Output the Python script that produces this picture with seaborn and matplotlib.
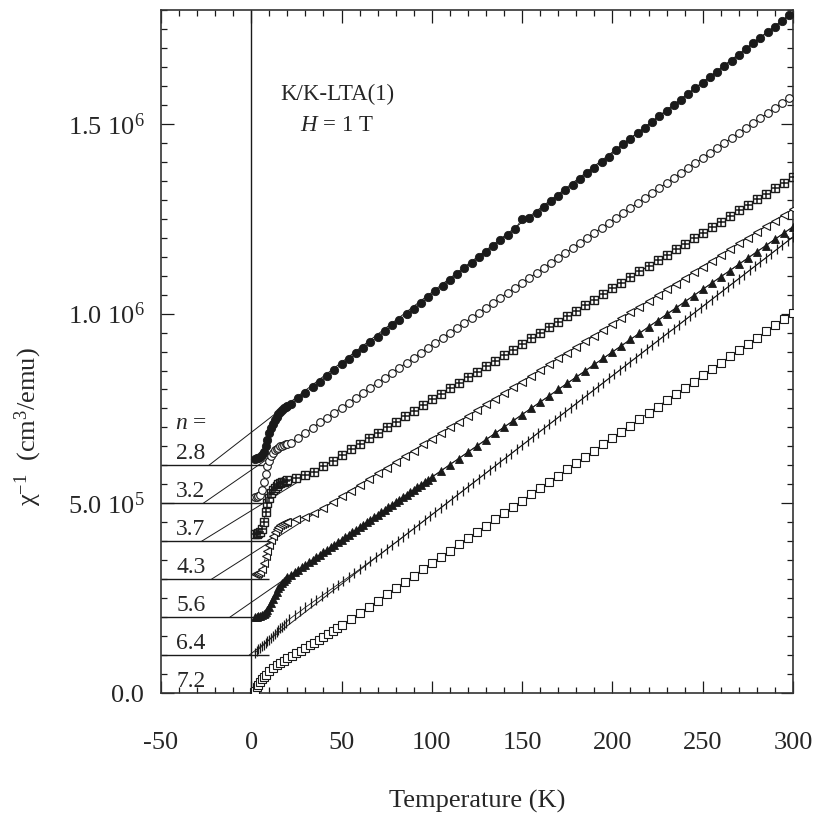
import numpy as np
import matplotlib
matplotlib.use("Agg")
import matplotlib.pyplot as plt
from matplotlib.ticker import MultipleLocator, FixedLocator, FixedFormatter
import seaborn as sns

# temperature grids (K)
t_low = list(range(2, 21))
t_4k = list(range(22, 299, 4))
t_5k = list(range(25, 301, 5))
t_56 = list(range(2, 21)) + list(range(22, 101, 2)) + list(range(105, 301, 5))
t_64 = list(range(2, 20)) + list(range(21, 301, 3))
t_72 = [1.5, 2, 3, 4, 5, 6, 7, 8, 10, 12, 14, 16, 18, 20, 22.5, 25, 27.5, 30,
        32.5, 35, 37.5, 40, 42.5, 45, 47.5, 50] + list(range(55, 301, 5))

# chi^-1 (+ offset), units of 1e5 cm^3/emu
y28 = [6.18, 6.19, 6.20, 6.22, 6.27, 6.36, 6.52, 6.68, 6.84, 6.98, 7.10, 7.20, 7.28, 7.35, 7.41, 7.46, 7.50, 7.54, 7.57,
       7.62, 7.77, 7.92, 8.06, 8.21, 8.36, 8.51, 8.66, 8.80, 8.95,
       9.10, 9.25, 9.39, 9.54, 9.69, 9.84, 9.98, 10.13, 10.28, 10.43,
       10.60, 10.74, 10.89, 11.04, 11.19, 11.33, 11.48, 11.63, 11.78, 11.93,
       12.07, 12.22, 12.50, 12.52, 12.66, 12.81, 12.96, 13.11, 13.26, 13.40,
       13.55, 13.70, 13.85, 13.99, 14.14, 14.31, 14.46, 14.61, 14.75, 14.90,
       15.05, 15.20, 15.34, 15.49, 15.64, 15.79, 15.94, 16.08, 16.23, 16.38,
       16.53, 16.67, 16.82, 16.97, 17.12, 17.27, 17.41, 17.56, 17.71, 17.86]
y32 = [5.17, 5.17, 5.18, 5.22, 5.35, 5.55, 5.78, 5.98, 6.12, 6.24, 6.33, 6.40, 6.44, 6.47, 6.50, 6.52, 6.54, 6.56, 6.57,
       6.60, 6.73, 6.86, 6.99, 7.13, 7.26, 7.39, 7.52, 7.65, 7.78,
       7.91, 8.05, 8.18, 8.31, 8.44, 8.57, 8.70, 8.84, 8.97, 9.10,
       9.23, 9.36, 9.49, 9.63, 9.76, 9.89, 10.02, 10.15, 10.28, 10.42,
       10.55, 10.68, 10.81, 10.94, 11.07, 11.20, 11.34, 11.47, 11.60, 11.73,
       11.86, 11.99, 12.13, 12.26, 12.39, 12.52, 12.65, 12.78, 12.92, 13.05,
       13.18, 13.31, 13.44, 13.57, 13.71, 13.84, 13.97, 14.10, 14.23, 14.36,
       14.50, 14.63, 14.76, 14.89, 15.02, 15.15, 15.28, 15.42, 15.55, 15.68]
y37 = [4.20, 4.20, 4.21, 4.24, 4.32, 4.50, 4.78, 5.00, 5.15, 5.27, 5.35, 5.41, 5.46, 5.50, 5.53, 5.55, 5.57, 5.59, 5.61,
       5.66, 5.74, 5.83, 5.98, 6.12, 6.27, 6.42, 6.56, 6.71, 6.86,
       7.00, 7.15, 7.30, 7.44, 7.59, 7.74, 7.88, 8.03, 8.18, 8.32,
       8.47, 8.61, 8.76, 8.91, 9.05, 9.20, 9.35, 9.49, 9.64, 9.79,
       9.93, 10.08, 10.23, 10.37, 10.52, 10.67, 10.81, 10.96, 11.11, 11.25,
       11.40, 11.55, 11.69, 11.84, 11.98, 12.13, 12.28, 12.42, 12.57, 12.72,
       12.86, 13.01, 13.16, 13.30, 13.45, 13.60]
y43 = [3.15, 3.15, 3.16, 3.18, 3.26, 3.42, 3.60, 3.75, 3.90, 4.03, 4.14, 4.24, 4.31, 4.37, 4.42, 4.45, 4.48, 4.50, 4.52,
       4.58, 4.65, 4.74, 4.88, 5.03, 5.18, 5.33, 5.49, 5.64, 5.79,
       5.94, 6.09, 6.24, 6.39, 6.55, 6.70, 6.85, 7.00, 7.15, 7.30,
       7.45, 7.61, 7.76, 7.91, 8.06, 8.21, 8.36, 8.51, 8.67, 8.82,
       8.97, 9.12, 9.27, 9.42, 9.58, 9.73, 9.88, 10.03, 10.18, 10.33,
       10.48, 10.64, 10.79, 10.94, 11.09, 11.24, 11.39, 11.54, 11.70, 11.85,
       12.00, 12.15, 12.30, 12.45, 12.61, 12.76]
y56 = [2.01, 2.01, 2.02, 2.03, 2.05, 2.09, 2.14, 2.20, 2.28, 2.37, 2.47, 2.58, 2.67, 2.76, 2.83, 2.89, 2.95, 3.00, 3.05,
       3.12, 3.18, 3.25, 3.31, 3.38, 3.45, 3.51, 3.58, 3.64, 3.71,
       3.78, 3.84, 3.91, 3.97, 4.04, 4.11, 4.17, 4.24, 4.30, 4.37,
       4.44, 4.50, 4.57, 4.63, 4.70, 4.77, 4.83, 4.90, 4.96, 5.03,
       5.10, 5.16, 5.23, 5.29, 5.36, 5.43, 5.49, 5.56, 5.62, 5.69,
       5.85, 6.02, 6.18, 6.35, 6.51, 6.68, 6.84, 7.01, 7.17, 7.34,
       7.50, 7.67, 7.83, 8.00, 8.16, 8.33, 8.49, 8.66, 8.82, 8.99,
       9.15, 9.32, 9.48, 9.65, 9.81, 9.98, 10.14, 10.31, 10.47, 10.64,
       10.80, 10.97, 11.13, 11.30, 11.46, 11.63, 11.79, 11.96, 12.12, 12.29]
y64 = [1.06, 1.10, 1.15, 1.19, 1.23, 1.27, 1.31, 1.36, 1.41, 1.46, 1.51, 1.56, 1.61, 1.66, 1.71, 1.75, 1.80, 1.85,
       1.94, 2.05, 2.15, 2.26, 2.36, 2.46, 2.56, 2.66, 2.76, 2.86,
       2.96, 3.06, 3.16, 3.26, 3.37, 3.47, 3.58, 3.68, 3.79, 3.90,
       4.00, 4.11, 4.22, 4.33, 4.44, 4.55, 4.66, 4.77, 4.88, 4.99,
       5.10, 5.21, 5.32, 5.43, 5.54, 5.65, 5.76, 5.87, 5.98, 6.09,
       6.20, 6.31, 6.42, 6.53, 6.64, 6.75, 6.86, 6.97, 7.08, 7.19,
       7.30, 7.41, 7.52, 7.63, 7.74, 7.85, 7.96, 8.07, 8.18, 8.29,
       8.40, 8.51, 8.62, 8.73, 8.84, 8.95, 9.06, 9.17, 9.28, 9.39,
       9.50, 9.60, 9.71, 9.82, 9.93, 10.04, 10.15, 10.26, 10.37, 10.48,
       10.59, 10.70, 10.81, 10.92, 11.03, 11.14, 11.25, 11.36, 11.47, 11.58,
       11.69, 11.80, 11.91, 12.02]
y72 = [0.02, 0.06, 0.15, 0.22, 0.30, 0.37, 0.43, 0.48, 0.58, 0.66, 0.73, 0.79, 0.85,
       0.91, 0.98, 1.05, 1.12, 1.19, 1.26, 1.33, 1.40, 1.47, 1.55, 1.63, 1.71, 1.78,
       1.94, 2.10, 2.27, 2.43, 2.60, 2.76, 2.93, 3.09, 3.26, 3.42,
       3.59, 3.75, 3.92, 4.08, 4.25, 4.41, 4.58, 4.74, 4.91, 5.07,
       5.24, 5.40, 5.57, 5.73, 5.90, 6.06, 6.23, 6.39, 6.56, 6.72,
       6.89, 7.05, 7.22, 7.38, 7.55, 7.71, 7.88, 8.04, 8.21, 8.37,
       8.54, 8.70, 8.87, 9.03, 9.20, 9.36, 9.53, 9.69, 9.86, 10.02]

# n values, offsets (1e5) and Curie-Weiss fit lines (theta in K, value at 300 K in 1e5)
n_labels = ['2.8', '3.2', '3.7', '4.3', '5.6', '6.4', '7.2']
offsets = [6, 5, 4, 3, 2, 1, 0]
theta = [-23.5, -26.6, -27.5, -22.0, -11.8, -1.1]
fit_300 = [17.95, 15.745, 13.60, 12.76, 12.29, 12.02]

sns.set_theme(style="ticks")
plt.rcParams['font.family'] = ['Liberation Serif', 'DejaVu Serif']
plt.rcParams['mathtext.fontset'] = 'custom'
plt.rcParams['mathtext.rm'] = 'Liberation Serif'
plt.rcParams['mathtext.it'] = 'Liberation Serif:italic'
plt.rcParams['axes.unicode_minus'] = False

fig = plt.figure(figsize=(8.17, 8.16), dpi=100)
ax = fig.add_axes([0.197, 0.1507, 0.7736, 0.837])
sc = 1e5

# baselines and T = 0 line
ax.hlines([o * sc for o in offsets[:-1]], -50, 10, color='k', lw=1.0, zorder=2)
ax.axvline(0, color='k', lw=1.0, zorder=2)

# fit lines
for th, off, end in zip(theta, offsets, fit_300):
    sns.lineplot(x=[th, 300], y=[off * sc, end * sc], ax=ax, color='k', lw=0.7, zorder=2)

common = dict(ax=ax, sort=False, estimator=None, color='k', lw=0.6, zorder=3, mec='k')
sns.lineplot(x=t_low + t_4k, y=np.array(y28) * sc, marker='o', ms=6, mfc='k', mew=0.6, **common)
sns.lineplot(x=t_low + t_4k, y=np.array(y32) * sc, marker='o', ms=5.5, mfc='white', mew=0.8, **common)
sns.lineplot(x=t_low + t_5k, y=np.array(y37) * sc, marker='s', ms=5.5, mfc='white', mew=1.0, **common)
sns.scatterplot(x=t_low + t_5k, y=np.array(y37) * sc, ax=ax, marker='+', s=28, color='k', linewidth=1.1, zorder=4)
sns.lineplot(x=t_low + t_5k, y=np.array(y43) * sc, marker='<', ms=6, mfc='white', mew=0.8, **common)
sns.lineplot(x=t_56, y=np.array(y56) * sc, marker='^', ms=6, mfc='k', mew=0.6, **common)
sns.lineplot(x=t_64, y=np.array(y64) * sc, marker='|', ms=7, mew=0.9, **common)

sns.lineplot(x=t_72, y=np.array(y72) * sc, marker='s', ms=5.5, mfc='white', mew=0.8, **common)

# n labels
ax.text(-33.5, 7.1 * sc, '$n$ =', fontsize=17, ha='center', va='center')
for lab, off in zip(n_labels, offsets):
    ax.text(-33.5, off * sc + 0.3 * sc, lab, fontsize=17, ha='center', va='center')

ax.text(47.5, 15.77 * sc, 'K/K-LTA(1)', fontsize=16.5, ha='center', va='center')
ax.text(47.5, 14.97 * sc, '$H$ = 1 T', fontsize=16.5, ha='center', va='center')

ax.set_xlim(-50, 300)
ax.set_ylim(0, 1.8e6)
ax.xaxis.set_major_locator(MultipleLocator(50))
ax.xaxis.set_minor_locator(MultipleLocator(10))
ax.yaxis.set_major_locator(FixedLocator([0, 5e5, 1e6, 1.5e6]))
ax.yaxis.set_major_formatter(FixedFormatter(['0.0', '5.0 10$^{5}$', '1.0 10$^{6}$', '1.5 10$^{6}$']))
ax.yaxis.set_minor_locator(MultipleLocator(5e4))
ax.tick_params(which='both', direction='in', top=True, right=True, color='k', width=0.9)
ax.tick_params(which='major', length=9)
ax.tick_params(which='minor', length=4.5)
ax.tick_params(axis='x', which='major', labelsize=19, pad=28)
ax.tick_params(axis='y', which='major', labelsize=19, pad=12)
for s in ax.spines.values():
    s.set_color('#333333')
    s.set_linewidth(1.2)

ax.set_xlabel('Temperature (K)', fontsize=19, labelpad=26)
ax.set_ylabel('χ$^{\\mathregular{-1}}$  (cm$^{\\mathregular{3}}$/emu)', fontsize=19)
ax.yaxis.set_label_coords(-0.185, 0.39)

fig.savefig('out.png', dpi=100, facecolor='white')
